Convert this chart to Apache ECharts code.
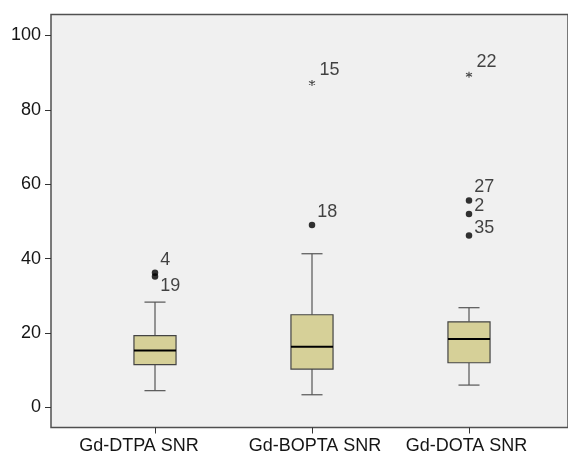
<!DOCTYPE html>
<html>
<head>
<meta charset="utf-8">
<script src="https://cdn.jsdelivr.net/npm/echarts@6/dist/echarts.min.js"></script>
<style>
html,body{margin:0;padding:0;background:#fff;}
#chart{width:568px;height:458px;}
</style>
</head>
<body>
<div id="chart"></div>
<script>
// ---- data ----
const categories = ['Gd-DTPA SNR', 'Gd-BOPTA SNR', 'Gd-DOTA SNR'];
const lowerWhisker = [4.5, 3.4, 6.0];
const q1Values = [11.5, 10.3, 12.0];
const medianValues = [15.3, 16.3, 18.4];
const q3Values = [19.3, 24.9, 23.0];
const upperWhisker = [28.3, 41.3, 26.8];
// outliers: [category index, value, case id]
const outliers = [[0, 36.2, '4'], [0, 35.2, '19'], [1, 49.0, '18'], [2, 55.6, '27'], [2, 52.0, '2'], [2, 46.2, '35']];
// extremes: [category index, value, case id]
const extremes = [[1, 87.2, '15'], [2, 89.4, '22']];
const tickValues = [0, 20, 40, 60, 80, 100];

// ---- label placement (style) ----
const labelOffsets = {
  '4': [0, -13], '19': [0, 10], '18': [0, -13],
  '27': [0, -14], '2': [0, -8], '35': [0, -7],
  '15': [0, -13], '22': [0, -13]
};
// horizontal padding of category labels [left, right] (style)
const catLabelPad = [[0, 32], [6, 0], [0, 5]];

const FONT = "'Liberation Sans', Arial, Helvetica, sans-serif";
const TEXT = '#151515';
const FS = 18;

const boxData = categories.map((c, i) => [i, lowerWhisker[i], q1Values[i], medianValues[i], q3Values[i], upperWhisker[i]]);

function pointData(list) {
  return list.map(p => ({
    value: [p[0], p[1]],
    name: p[2],
    label: { offset: labelOffsets[p[2]] }
  }));
}

const rich = {};
catLabelPad.forEach((p, i) => {
  rich['c' + i] = { color: TEXT, fontSize: FS, fontFamily: FONT, padding: [0, p[1], 0, p[0]] };
});

const chart = echarts.init(document.getElementById('chart'), null, { renderer: 'canvas' });

const option = {
  animation: false,
  backgroundColor: '#fff',
  grid: [
    { left: 51, right: -3, top: 14.5, bottom: 30.5, show: true, backgroundColor: '#f0f0f0', borderColor: '#505050', borderWidth: 1.5, z: 0 },
    { left: 76.5, width: 471, top: 14.5, bottom: 30.5, show: false }
  ],
  xAxis: [
    { gridIndex: 0, type: 'value', show: false, min: 0, max: 1 },
    {
      gridIndex: 1, type: 'category', data: categories,
      axisLine: { show: false, onZero: false },
      axisTick: { show: true, alignWithLabel: true, interval: 0, length: 6, lineStyle: { color: '#333', width: 1 } },
      axisLabel: {
        interval: 0, hideOverlap: false, color: TEXT, fontSize: FS, fontFamily: FONT, margin: 10,
        formatter: function (v, i) { return '{c' + i + '|' + v + '}'; },
        rich: rich
      },
      splitLine: { show: false }
    }
  ],
  yAxis: [
    { gridIndex: 0, type: 'value', show: false, min: 0, max: 1 },
    {
      gridIndex: 1, type: 'value', min: -5.4, max: 105.6, offset: 25.5,
      axisLine: { show: false },
      axisTick: { show: true, length: 6, lineStyle: { color: '#333' }, customValues: tickValues },
      axisLabel: { color: TEXT, fontSize: FS, fontFamily: FONT, margin: 10, customValues: tickValues },
      splitLine: { show: false }
    }
  ],
  series: [
    {
      type: 'custom',
      xAxisIndex: 1, yAxisIndex: 1,
      data: boxData,
      renderItem: function (params, api) {
        const x = api.value(0);
        const band = api.size([1, 0])[0];
        const halfW = band * 0.134;
        const capHalf = halfW * 0.5;
        const cx = api.coord([x, 0])[0];
        const yLw = api.coord([x, api.value(1)])[1];
        const yQ1 = api.coord([x, api.value(2)])[1];
        const yMed = api.coord([x, api.value(3)])[1];
        const yQ3 = api.coord([x, api.value(4)])[1];
        const yUw = api.coord([x, api.value(5)])[1];
        const wStyle = { stroke: '#555', lineWidth: 1.2 };
        return {
          type: 'group',
          children: [
            { type: 'line', shape: { x1: cx, y1: yUw, x2: cx, y2: yQ3 }, style: wStyle },
            { type: 'line', shape: { x1: cx, y1: yQ1, x2: cx, y2: yLw }, style: wStyle },
            { type: 'line', shape: { x1: cx - capHalf, y1: yUw, x2: cx + capHalf, y2: yUw }, style: wStyle },
            { type: 'line', shape: { x1: cx - capHalf, y1: yLw, x2: cx + capHalf, y2: yLw }, style: wStyle },
            { type: 'rect', shape: { x: cx - halfW, y: yQ3, width: halfW * 2, height: yQ1 - yQ3 }, style: { fill: '#d6d098', stroke: '#444', lineWidth: 1.2 } },
            { type: 'line', shape: { x1: cx - halfW, y1: yMed, x2: cx + halfW, y2: yMed }, style: { stroke: '#000', lineWidth: 2 } }
          ]
        };
      },
      z: 2
    },
    {
      type: 'scatter',
      xAxisIndex: 1, yAxisIndex: 1,
      data: pointData(outliers),
      symbol: 'circle', symbolSize: 6.5,
      itemStyle: { color: '#000' },
      label: { show: true, position: 'right', distance: 2, formatter: '{b}', color: TEXT, fontSize: FS, fontFamily: FONT },
      z: 3
    },
    {
      type: 'scatter',
      xAxisIndex: 1, yAxisIndex: 1,
      data: pointData(extremes),
      symbol: 'path://M5,0 L5,10 M0.67,2.5 L9.33,7.5 M0.67,7.5 L9.33,2.5',
      symbolSize: 6,
      itemStyle: { color: 'none', borderColor: '#222', borderWidth: 1.1 },
      label: { show: true, position: 'right', distance: 2, formatter: '{b}', color: TEXT, fontSize: FS, fontFamily: FONT },
      z: 3
    }
  ]
};
chart.setOption(option);
</script>
</body>
</html>
